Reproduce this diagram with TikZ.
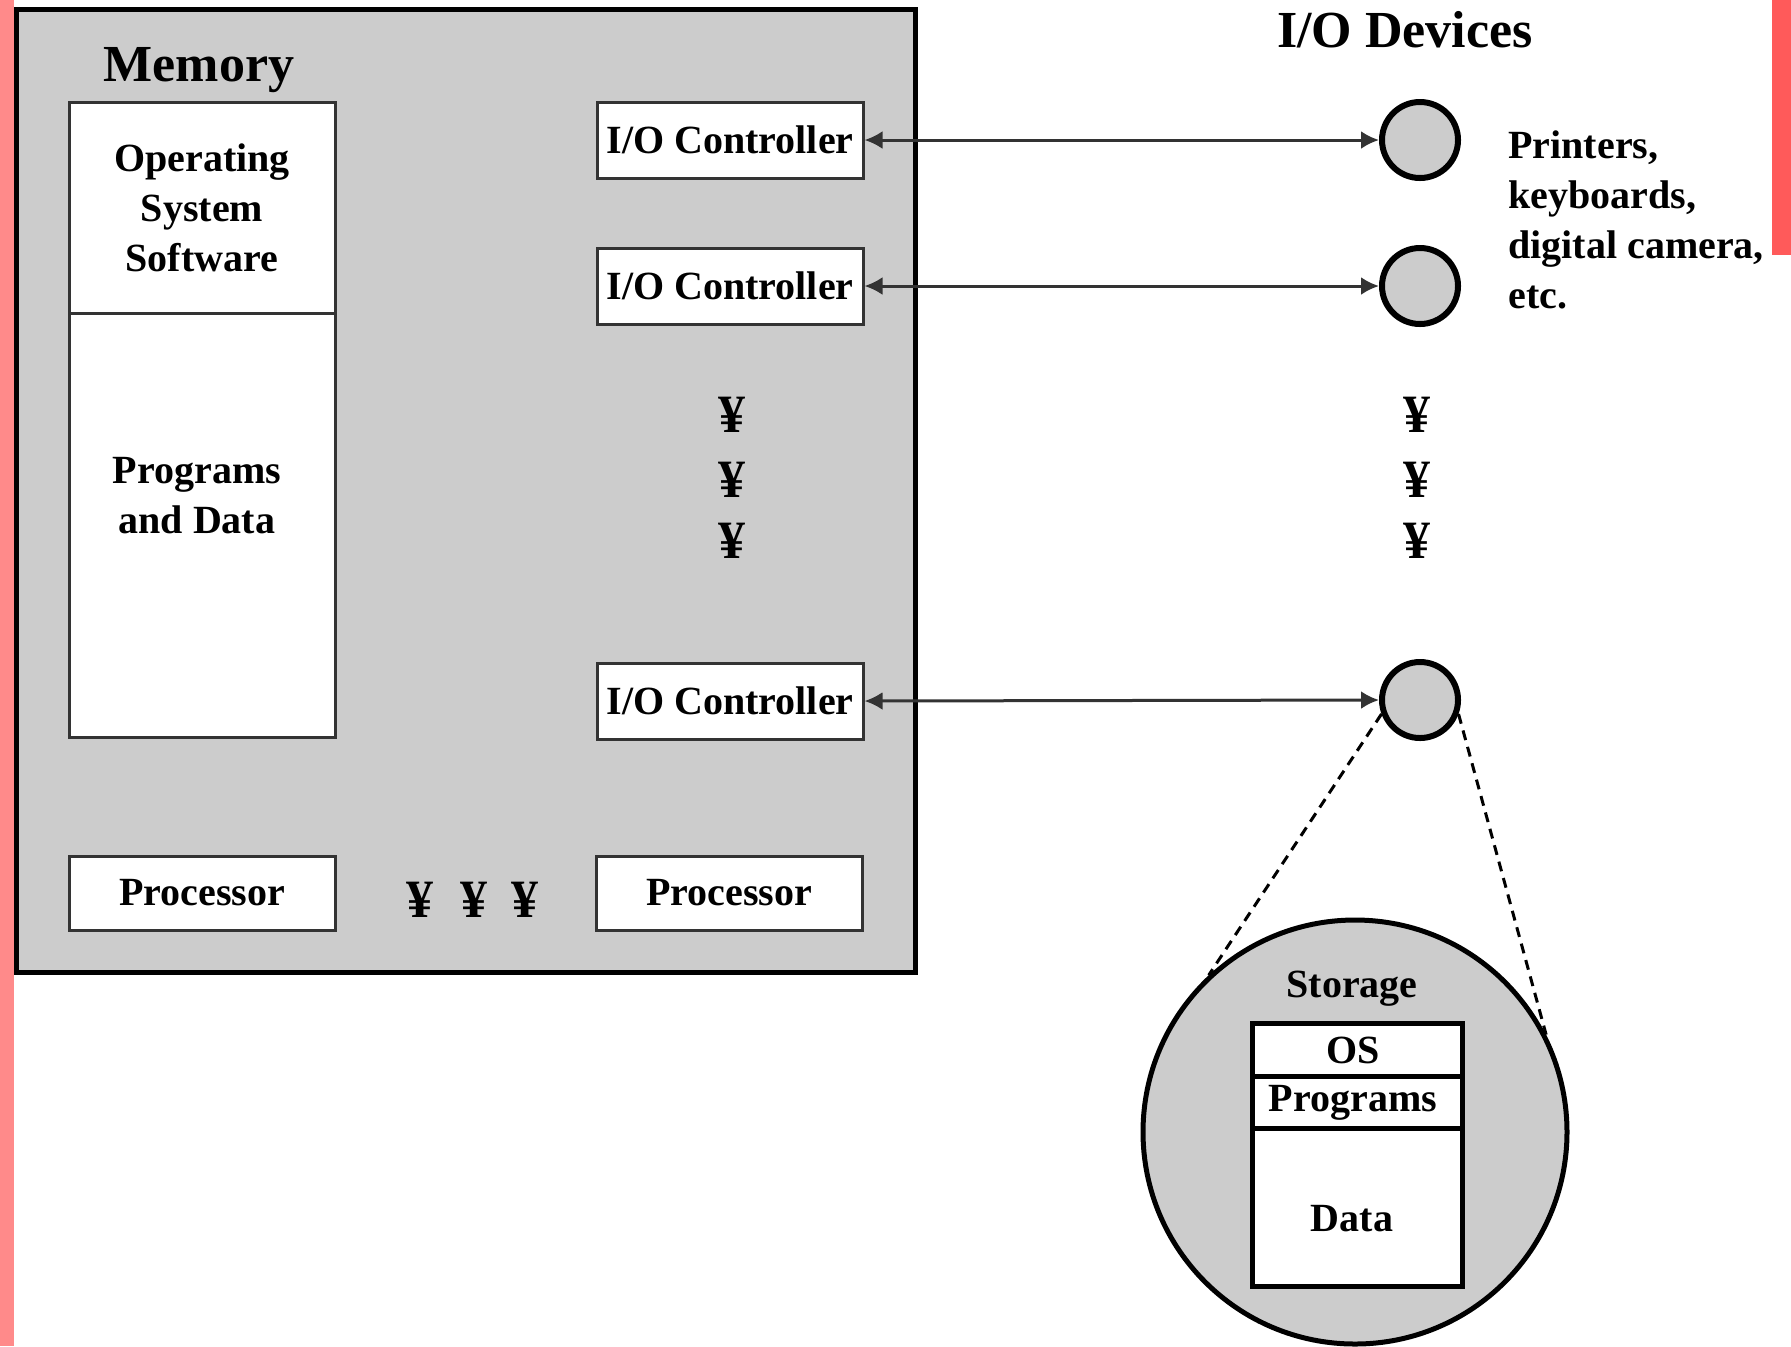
\documentclass[tikz,border=0pt]{standalone}
\usepackage{fontspec}
\setmainfont{Liberation Serif}
\usetikzlibrary{arrows.meta}
\definecolor{panel}{RGB}{204,204,204}
\definecolor{pinkstrip}{RGB}{255,138,138}
\definecolor{redbar}{RGB}{255,90,90}
\begin{document}
\begin{tikzpicture}[x=0.5pt,y=-0.5pt,
  every node/.style={font=\bfseries\fontsize{20}{25}\selectfont},
  wbox/.style={draw=black!80, line width=1.5pt, fill=white, minimum width=133pt, inner sep=0pt, align=center},
  dev/.style={circle, draw=black, line width=3pt, fill=panel, minimum size=38pt, inner sep=0pt},
  link/.style={draw=black!80, line width=1.5pt, {Latex[length=9pt,width=9pt]}-{Latex[length=9pt,width=9pt]}},
  yen/.style={font=\bfseries\fontsize{27}{27}\selectfont, inner sep=0pt},
  title/.style={font=\bfseries\fontsize{26}{30}\selectfont},
  zoomline/.style={dash pattern=on 5pt off 3.5pt, line width=1.5pt},
  tbl/.style={draw=black, line width=2.5pt}
]
\useasboundingbox (0,0) rectangle (1791,1346);
\fill[white] (0,0) rectangle (1791,1346);
% side artefacts
\fill[pinkstrip] (0,0) rectangle (14,1346);
\fill[redbar] (1772,0) rectangle (1791,255);

% computer box
\draw[line width=2.5pt, fill=panel] (16,9) rectangle (915,972);
\node[title] (memlbl) at (199,70) {Memory};

\node[wbox, minimum height=105.5pt] (osbox) at (202,207.5) {Operating\\System\\Software};
\node[wbox, minimum height=212pt] (pdbox) at (202,525) {};
\node[align=center] (pdtxt) at (197,496) {Programs\\and Data};

\node[wbox, minimum height=37pt] (p1) at (202,893) {Processor};
\node[wbox, minimum height=37pt] (p2) at (729,893) {Processor};
\node[yen] (y1) at (420,900) {¥};
\node[yen] (y2) at (474,900) {¥};
\node[yen] (y3) at (525,900) {¥};

\node[wbox, minimum height=38pt] (c1) at (730,140) {I/O Controller};
\node[wbox, minimum height=38pt] (c2) at (730,286) {I/O Controller};
\node[wbox, minimum height=38pt] (c3) at (730,701) {I/O Controller};
\node[yen] (cy1) at (732,415) {¥};
\node[yen] (cy2) at (732,480) {¥};
\node[yen] (cy3) at (732,541) {¥};

% devices
\node[title] (devlbl) at (1405,30) {I/O Devices};
\node[dev] (d1) at (1420,140) {};
\node[dev] (d2) at (1420,286) {};
\node[dev] (d3) at (1420,700) {};
\node[yen] (dy1) at (1417,415) {¥};
\node[yen] (dy2) at (1417,480) {¥};
\node[yen] (dy3) at (1417,541) {¥};
\node[align=left, anchor=west, inner sep=0pt] (devtxt) at (1508,220) {Printers,\\keyboards,\\digital camera,\\etc.};

\draw[link] (c1.east) -- (d1.west);
\draw[link] (c2.east) -- (d2.west);
\draw[link] (c3.east) -- (d3.west);

% storage
\node[circle, draw=black, line width=2.5pt, fill=panel, minimum size=212pt, inner sep=0pt] (stor) at (1355,1132) {};
\draw[zoomline] (d3.200) -- (stor.133);
\draw[zoomline] (d3.-20) -- (stor.27);
\node (storlbl) at (1352,989) {Storage};
\draw[tbl, fill=white] (1252,1023) rectangle (1462,1286);
\draw[tbl] (1252,1076) -- (1462,1076);
\draw[tbl] (1252,1128) -- (1462,1128);
\node (ostxt) at (1353,1050) {OS};
\node (prtxt) at (1353,1103) {Programs};
\node (datxt) at (1352,1219) {Data};
\end{tikzpicture}
\end{document}
